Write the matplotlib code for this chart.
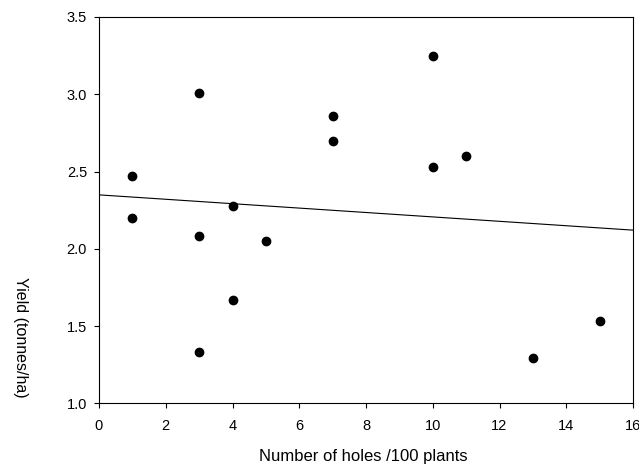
import numpy as np
import matplotlib
matplotlib.use('Agg')
import matplotlib.pyplot as plt

plt.rcParams['font.family'] = ['Liberation Sans', 'DejaVu Sans']

holes = [1, 1, 3, 3, 3, 4, 4, 5, 7, 7, 10, 10, 11, 13, 15]
yield_t = [2.47, 2.20, 3.01, 2.08, 1.33, 2.28, 1.67, 2.05, 2.86, 2.70, 3.25, 2.53, 2.60, 1.29, 1.53]
x_ticks = [0, 2, 4, 6, 8, 10, 12, 14, 16]
y_ticks = [1.0, 1.5, 2.0, 2.5, 3.0, 3.5]


def main():
    fig = plt.figure(figsize=(6.39, 4.67), dpi=100)
    ax = fig.add_axes([99 / 639, 1 - 403.3 / 467, (633 - 99) / 639, (403.3 - 17) / 467])

    ax.plot(holes, yield_t, 'o', color='black', ms=6, zorder=3)

    # simple linear regression line across the whole x range
    slope, intercept = np.polyfit(holes, yield_t, 1)
    xs = np.array([0, 16])
    ax.plot(xs, intercept + slope * xs, color='black', lw=0.8)

    ax.set_xlim(0, 16)
    ax.set_ylim(1.0, 3.5)
    ax.set_xticks(x_ticks)
    ax.set_yticks(y_ticks)
    ax.set_yticklabels(['%.1f' % v for v in y_ticks])
    ax.tick_params(axis='both', direction='out', length=3.6, width=0.8, labelsize=10.5, colors='black')
    ax.tick_params(axis='x', pad=8)
    ax.tick_params(axis='y', pad=5)
    for s in ax.spines.values():
        s.set_linewidth(0.8)

    fig.text(363 / 639, 1 - 457 / 467, 'Number of holes /100 plants', fontsize=12,
             ha='center', va='center')
    fig.text(20 / 639, 1 - 337 / 467, 'Yield (tonnes/ha)', fontsize=11.5,
             rotation=270, ha='center', va='center')

    fig.savefig('out.png', dpi=100)


if __name__ == '__main__':
    main()
